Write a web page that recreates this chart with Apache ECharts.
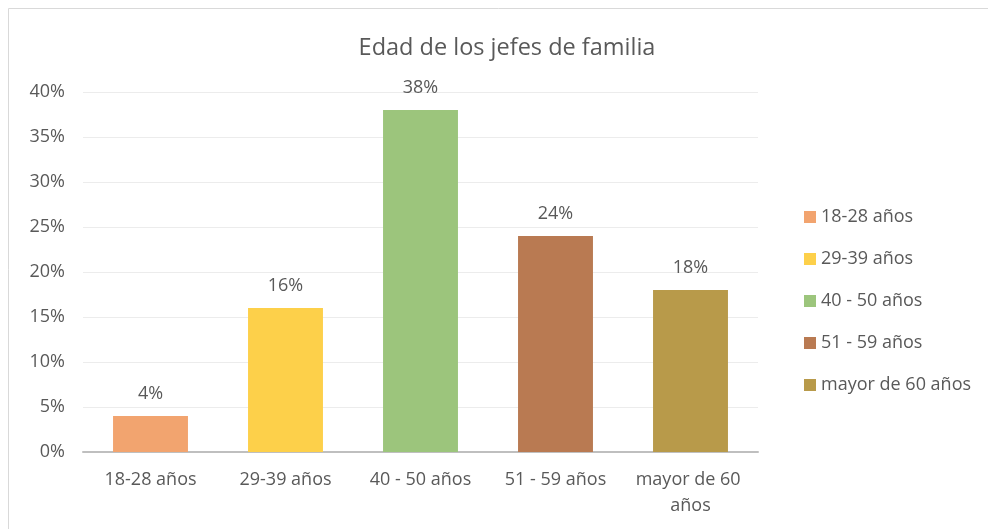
<!DOCTYPE html>
<html>
<head>
<meta charset="utf-8">
<script src="https://cdn.jsdelivr.net/npm/echarts@6/dist/echarts.min.js"></script>
<style>
  html, body { margin: 0; padding: 0; background: #fff; }
  #chart { width: 988px; height: 529px; }
</style>
</head>
<body>
<div id="chart"></div>
<script>
var categories = ['18-28 años', '29-39 años', '40 - 50 años', '51 - 59 años', 'mayor de 60 años'];
var values = [4, 16, 38, 24, 18];
var colors = ['#F2A46F', '#FDD04A', '#9CC57C', '#B97A52', '#B89A4A'];
var yTicks = { min: 0, max: 40, interval: 5 };

var font = 'Open Sans';
var textColor = '#595959';

var series = categories.map(function (name, i) {
    var d = categories.map(function (c, j) { return j === i ? values[i] : null; });
    return {
        name: name,
        type: 'bar',
        stack: 'edad',
        barWidth: '55.5%',
        itemStyle: { color: colors[i] },
        label: {
            show: true,
            position: 'top',
            distance: 13,
            formatter: '{c}%',
            color: textColor,
            fontFamily: font,
            fontSize: 18
        },
        data: d
    };
});

var myChart = echarts.init(document.getElementById('chart'));
var option = {
    animation: false,
    graphic: [{
        type: 'rect',
        shape: { x: 8.5, y: 8.5, width: 1000, height: 540 },
        style: { fill: 'none', stroke: '#d9d9d9', lineWidth: 1 },
        z: -1
    }],
    title: {
        text: 'Edad de los jefes de familia',
        left: 502,
        textAlign: 'center',
        top: 31,
        textStyle: { color: textColor, fontFamily: font, fontSize: 23.5, fontWeight: 'normal' }
    },
    legend: {
        orient: 'vertical',
        left: 799,
        top: 202,
        itemWidth: 12,
        itemHeight: 12,
        itemGap: 22,
        icon: 'rect',
        textStyle: { color: textColor, fontFamily: font, fontSize: 18, lineHeight: 20 },
        data: categories
    },
    grid: { left: 83, right: 230, top: 92, bottom: 77 },
    xAxis: {
        type: 'category',
        data: categories,
        axisTick: { show: false },
        axisLine: { lineStyle: { color: '#bfbfbf', width: 2 } },
        axisLabel: {
            color: textColor,
            fontFamily: font,
            fontSize: 18,
            margin: 15,
            width: 120,
            overflow: 'break',
            interval: 0,
            lineHeight: 26
        }
    },
    yAxis: {
        type: 'value',
        min: yTicks.min,
        max: yTicks.max,
        interval: yTicks.interval,
        axisLabel: {
            formatter: '{value}%',
            color: textColor,
            fontFamily: font,
            fontSize: 18,
            margin: 18
        },
        splitLine: { lineStyle: { color: '#ececec', width: 1 } }
    },
    series: series
};
myChart.setOption(option);
</script>
</body>
</html>
